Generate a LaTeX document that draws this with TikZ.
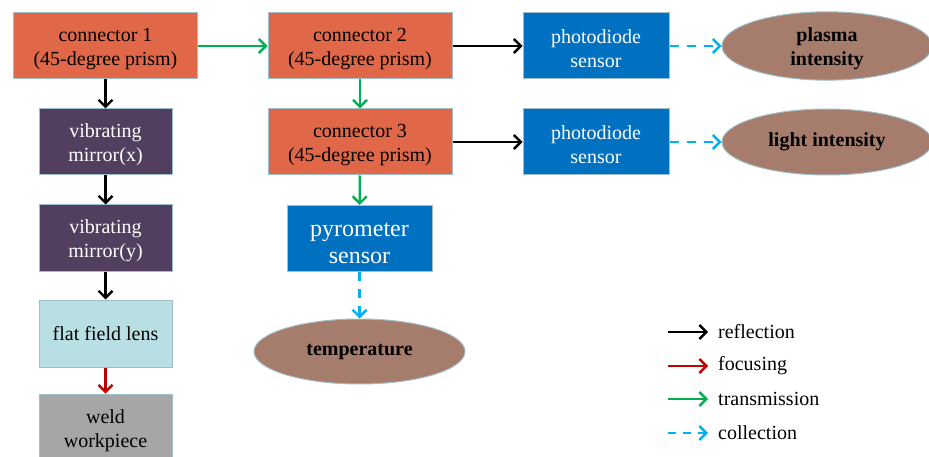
\documentclass[tikz,border=0pt]{standalone}
\usepackage{fontspec}
\setmainfont{Liberation Serif}
\usetikzlibrary{arrows.meta,shapes.geometric}
\definecolor{conn}{RGB}{224,104,72}
\definecolor{purp}{RGB}{82,62,94}
\definecolor{lblue}{RGB}{184,224,228}
\definecolor{wgray}{RGB}{166,166,166}
\definecolor{sblue}{RGB}{0,112,192}
\definecolor{resbrown}{RGB}{166,124,108}
\definecolor{edge}{RGB}{160,190,200}
\definecolor{tgreen}{RGB}{0,176,80}
\definecolor{fred}{RGB}{192,0,0}
\definecolor{ccyan}{RGB}{0,176,240}
\newcommand{\tup}{\rule{0pt}{20pt}}
\newcommand{\tupbig}{\rule{0pt}{23pt}}
\tikzset{
  box/.style={draw=edge, line width=1pt, rectangle, align=center, inner sep=0pt,
    font=\fontsize{20}{24}\selectfont},
  connbox/.style={box, fill=conn, text=black, minimum width=184pt, minimum height=66pt},
  mirbox/.style={box, fill=purp, text=white, minimum width=133pt, minimum height=66pt},
  sensbox/.style={box, fill=sblue, text=white, minimum width=146pt, minimum height=66pt},
  result/.style={draw=edge, line width=1pt, ellipse, fill=resbrown, align=center, inner sep=0pt,
    font=\bfseries\fontsize{20}{24}\selectfont},
  arr/.style={line width=2.4pt, -{Straight Barb[length=7pt,width=14pt,line width=2.4pt]}},
  refl/.style={arr, black},
  focu/.style={arr, fred},
  trans/.style={arr, tgreen},
  coll/.style={arr, ccyan, dash pattern=on 9pt off 8pt},
  legtext/.style={anchor=west, inner sep=0pt, font=\fontsize{20}{22}\selectfont}
}
\begin{document}
\begin{tikzpicture}[x=1pt,y=-1pt]
\clip (0,0) rectangle (929,457);
\fill[white] (0,0) rectangle (929,457);
% left column
\node[connbox] (c1) at (105.5,46) {\tup connector 1\\(45-degree prism)};
\node[mirbox] (mx) at (105.5,142) {\tup vibrating\\mirror(x)};
\node[mirbox] (my) at (105.5,238) {\tup vibrating\\mirror(y)};
\node[box, fill=lblue, text=black, minimum width=133pt, minimum height=67pt] (ffl) at (105.5,333.5) {flat field lens};
\node[box, fill=wgray, text=black, minimum width=133pt, minimum height=68pt] (weld) at (105.5,428) {\tup weld\\workpiece};
% middle column
\node[connbox] (c2) at (360,46) {\tup connector 2\\(45-degree prism)};
\node[connbox] (c3) at (360,142) {\tup connector 3\\(45-degree prism)};
\node[sensbox, minimum width=145pt, font=\fontsize{24}{27}\selectfont] (pyro) at (359.5,238.5) {\tupbig pyrometer\\sensor};
\node[result, minimum width=211pt, minimum height=65pt] (temp) at (359.5,351.5) {temperature};
% right
\node[sensbox] (pd1) at (596,46) {\tup photodiode\\sensor};
\node[sensbox] (pd2) at (596,142) {\tup photodiode\\sensor};
\node[result, minimum width=210pt, minimum height=66pt] (plasma) at (827,46) {\tup plasma\\intensity};
\node[result, minimum width=210pt, minimum height=66pt] (light) at (827,142) {light intensity};
% connectors
\draw[trans] (c1) -- (c2);
\draw[refl] (c1) -- (mx);
\draw[refl] (mx) -- (my);
\draw[refl] (my) -- (ffl);
\draw[focu] (ffl) -- (weld);
\draw[trans] (c2) -- (c3);
\draw[trans] (c3) -- (pyro);
\draw[refl] (c2) -- (pd1);
\draw[refl] (c3) -- (pd2);
\draw[coll] (pd1) -- (plasma);
\draw[coll] (pd2) -- (light);
\draw[coll] (pyro) -- (temp);
% legend
\coordinate (l1a) at (668,332); \coordinate (l1b) at (708,332);
\coordinate (l2a) at (668,366); \coordinate (l2b) at (708,366);
\coordinate (l3a) at (668,399); \coordinate (l3b) at (708,399);
\coordinate (l4a) at (668,433); \coordinate (l4b) at (708,433);
\draw[refl] (l1a) -- (l1b);
\draw[focu] (l2a) -- (l2b);
\draw[trans] (l3a) -- (l3b);
\draw[coll, dash pattern=on 8pt off 7pt] (l4a) -- (l4b);
\node[legtext] (t1) at (718,332) {reflection};
\node[legtext] (t2) at (718,366) {focusing};
\node[legtext] (t3) at (718,399) {transmission};
\node[legtext] (t4) at (718,433) {collection};
\end{tikzpicture}
\end{document}
